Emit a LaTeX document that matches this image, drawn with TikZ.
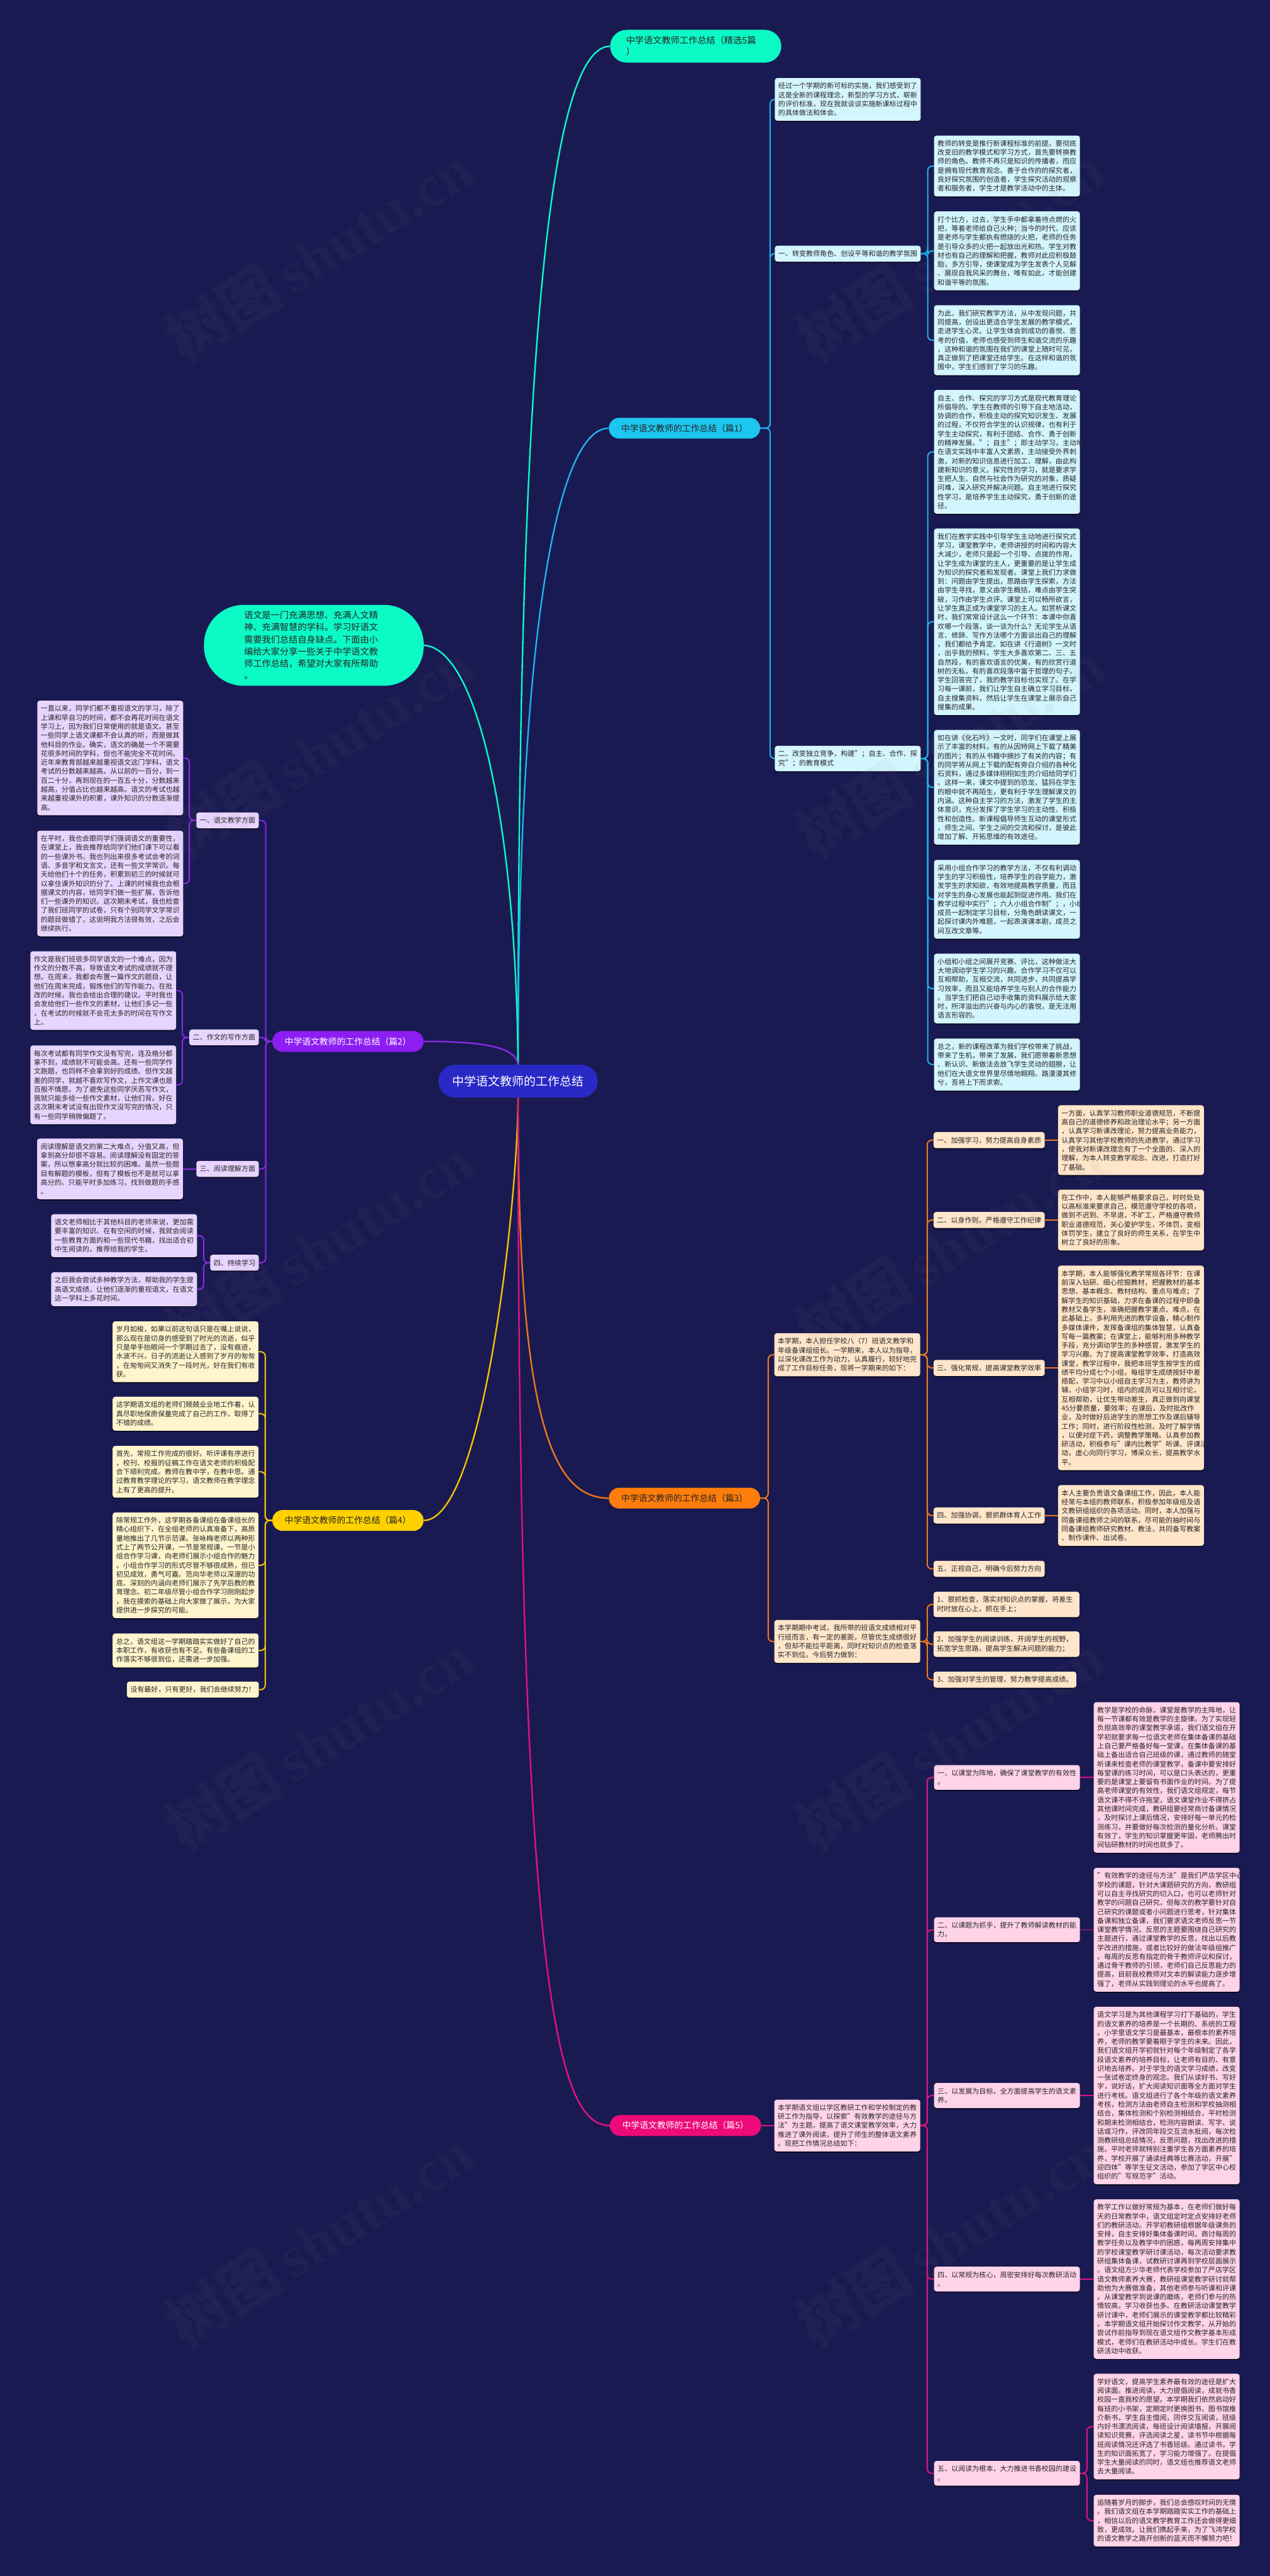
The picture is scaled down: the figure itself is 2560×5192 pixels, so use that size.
\documentclass[tikz,border=0pt]{standalone}
\usepackage{fontspec}
\setmainfont{Noto Sans CJK SC}
\newfontfamily\wmfont{Liberation Serif}
\usetikzlibrary{shadows}
\pgfdeclarelayer{back}\pgfdeclarelayer{lines}\pgfdeclarelayer{front}
\pgfsetlayers{back,lines,main,front}
\definecolor{bg}{HTML}{1A1A52}
\definecolor{txt}{HTML}{262626}
\definecolor{mint}{HTML}{0CFAC6}
\definecolor{rootc}{HTML}{2929C6}
\definecolor{c1}{HTML}{1CC6EE}\definecolor{c1line}{HTML}{1EB5EC}\definecolor{c1f}{HTML}{D3F5FE}
\definecolor{c2}{HTML}{8C1EF2}\definecolor{c2line}{HTML}{8A2BE8}\definecolor{c2f}{HTML}{E8D5FF}
\definecolor{c3}{HTML}{FF7D0A}\definecolor{c3line}{HTML}{F07818}\definecolor{c3f}{HTML}{FFE5CA}
\definecolor{c4}{HTML}{FFD100}\definecolor{c4line}{HTML}{F2C500}\definecolor{c4f}{HTML}{FFF4CC}
\definecolor{c5}{HTML}{EE0A78}\definecolor{c5line}{HTML}{E0147E}\definecolor{c5f}{HTML}{FFD3E8}
\tikzset{
  tb/.style={rounded corners=5pt, inner xsep=7pt, inner ysep=9.5pt, font=\fontsize{14}{18.1}\selectfont, text=txt, align=left,
    drop shadow={shadow xshift=0pt,shadow yshift=-2.5pt,opacity=0.55,fill=black}},
  wb/.style={tb, text width=280pt, anchor=north west},
  branch/.style={rounded corners=21pt, minimum height=42pt, minimum width=305pt, inner xsep=0pt, font=\fontsize{17.5}{20}\selectfont},
  ln/.style={line width=2.5pt, rounded corners=9pt},
  mainln/.style={line width=3pt},
  wm/.style={rotate=32, text=gray, opacity=0.06, font=\fontsize{120}{120}\selectfont\bfseries}
}
\begin{document}
\begin{tikzpicture}[x=1pt,y=-1pt]
\begin{pgfonlayer}{back}
\fill[bg] (0,0) rectangle (2560,5192);
\end{pgfonlayer}
\useasboundingbox (0,0) rectangle (2560,5192);

% ---------- top level ----------
\node[fill=mint, rounded corners=33pt, anchor=north west, minimum height=66pt, text width=281pt, inner xsep=32pt, inner ysep=0pt, align=left, font=\fontsize{18}{23}\selectfont, text=txt] (top) at (1230,60) {中学语文教师工作总结（精选5篇\\）};
\node[fill=mint, rounded corners=80pt, anchor=north west, minimum height=163pt, text width=281pt, inner xsep=81pt, inner ysep=0pt, align=left, font=\fontsize{18}{24.3}\selectfont, text=txt] (intro) at (411,1219) {语文是一门充满思想、充满人文精\\神、充满智慧的学科。学习好语文\\需要我们总结自身缺点。下面由小\\编给大家分享一些关于中学语文教\\师工作总结，希望对大家有所帮助\\。};
\node[fill=rootc, rounded corners=33pt, minimum width=321pt, minimum height=66pt, font=\fontsize{24}{28}\selectfont, text=white] (root) at (1044.5,2179) {中学语文教师的工作总结};

\node[branch, fill=c1, text=txt] (b1) at (1380,863) {中学语文教师的工作总结（篇1）};
\node[branch, fill=c2, text=white] (b2) at (701.5,2099) {中学语文教师的工作总结（篇2）};
\node[branch, fill=c3, text=txt] (b3) at (1380,3019.5) {中学语文教师的工作总结（篇3）};
\node[branch, fill=c4, text=txt] (b4) at (701.5,3064.5) {中学语文教师的工作总结（篇4）};
\node[branch, fill=c5, text=white] (b5) at (1382,4284) {中学语文教师的工作总结（篇5）};

% ---------- 篇1 ----------
\node[wb, fill=c1f] (b1intro) at (1562,157) {经过一个学期的新可标的实施，我们感受到了\\这是全新的课程理念，新型的学习方式，崭新\\的评价标准，现在我就谈谈实施新课标过程中\\的具体做法和体会。};
\node[wb, fill=c1f] (b1s1) at (1562,495) {一、转变教师角色、创设平等和谐的教学氛围};
\node[wb, fill=c1f] (b1s1c1) at (1883,273) {教师的转变是推行新课程标准的前提。要彻底\\改变旧的教学模式和学习方式，首先要转换教\\师的角色。教师不再只是知识的传播者，而应\\是拥有现代教育观念、善于合作的的探究者，\\良好探究氛围的创造者，学生探究活动的观察\\者和服务者，学生才是教学活动中的主体。};
\node[wb, fill=c1f] (b1s1c2) at (1883,426) {打个比方，过去，学生手中都拿着待点燃的火\\把，等着老师给自己火种；当今的时代，应该\\是老师与学生都执有燃烧的火把，老师的任务\\是引导众多的火把一起放出光和热。学生对教\\材也有自己的理解和把握，教师对此应积极鼓\\励，多方引导，使课堂成为学生发表个人见解\\、展现自我风采的舞台，唯有如此，才能创建\\和谐平等的氛围。};
\node[wb, fill=c1f] (b1s1c3) at (1883,615) {为此，我们研究教学方法，从中发现问题，共\\同提高，创设出更适合学生发展的教学模式，\\走进学生心灵。让学生体会到成功的喜悦、思\\考的价值，老师也感受到师生和谐交流的乐趣\\，这种和谐的氛围在我们的课堂上随时可见，\\真正做到了把课堂还给学生。在这样和谐的氛\\围中，学生们感到了学习的乐趣。};
\node[wb, fill=c1f] (b1s2) at (1562,1503) {二、改变独立竞争，构建"；自主、合作、探\\究"；的教育模式};
\node[wb, fill=c1f] (b1s2c1) at (1883,786) {自主、合作、探究的学习方式是现代教育理论\\所倡导的。学生在教师的引导下自主地活动，\\协调的合作，积极主动的探究知识发生、发展\\的过程，不仅符合学生的认识规律，也有利于\\学生主动探究，有利于团结、合作、勇于创新\\的精神发展。"；自主"；即主动学习，主动地\\在语文实践中丰富人文素质，主动接受外界刺\\激，对新的知识信息进行加工、理解，由此构\\建新知识的意义。探究性的学习，就是要求学\\生把人生、自然与社会作为研究的对象，质疑\\问难，深入研究并解决问题。自主地进行探究\\性学习，是培养学生主动探究，勇于创新的途\\径。};
\node[wb, fill=c1f] (b1s2c2) at (1883,1065) {我们在教学实践中引导学生主动地进行探究式\\学习，课堂教学中，老师讲授的时间和内容大\\大减少，老师只是起一个引导、点拨的作用，\\让学生成为课堂的主人，更重要的是让学生成\\为知识的探究者和发现者。课堂上我们力求做\\到：问题由学生提出，思路由学生探索，方法\\由学生寻找，意义由学生概括，难点由学生突\\破，习作由学生点评。课堂上可以畅所欲言，\\让学生真正成为课堂学习的主人。如赏析课文\\时，我们常常设计这么一个环节：本课中你喜\\欢哪一个段落，谈一谈为什么？无论学生从语\\言、修辞、写作方法哪个方面谈出自己的理解\\，我们都给予肯定。如在讲《行道树》一文时\\，出乎我的预料，学生大多喜欢第二、三、五\\自然段，有的喜欢语言的优美，有的欣赏行道\\树的无私，有的喜欢段落中富于哲理的句子。\\学生回答完了，我的教学目标也实现了。在学\\习每一课前，我们让学生自主确立学习目标，\\自主搜集资料，然后让学生在课堂上展示自己\\搜集的成果。};
\node[wb, fill=c1f] (b1s2c3) at (1883,1471) {如在讲《化石吟》一文时，同学们在课堂上展\\示了丰富的材料，有的从因特网上下载了精美\\的图片；有的从书籍中摘抄了有关的内容；有\\的同学将从网上下载的配有旁白介绍的各种化\\石资料，通过多媒体栩栩如生的介绍给同学们\\。这样一来，课文中提到的恐龙、猛犸在学生\\的眼中就不再陌生，更有利于学生理解课文的\\内涵。这种自主学习的方法，激发了学生的主\\体意识，充分发挥了学生学习的主动性、积极\\性和创造性。新课程倡导师生互动的课堂形式\\，师生之间、学生之间的交流和探讨，是彼此\\增加了解、开拓思维的有效途径。};
\node[wb, fill=c1f] (b1s2c4) at (1883,1733) {采用小组合作学习的教学方法，不仅有利调动\\学生的学习积极性，培养学生的自学能力，激\\发学生的求知欲，有效地提高教学质量，而且\\对学生的身心发展也能起到促进作用。我们在\\教学过程中实行"；六人小组合作制"；，小组\\成员一起制定学习目标，分角色朗读课文，一\\起探讨课内外难题，一起表演课本剧，成员之\\间互改文章等。};
\node[wb, fill=c1f] (b1s2c5) at (1883,1922) {小组和小组之间展开竞赛、评比，这种做法大\\大地调动学生学习的兴趣。合作学习不仅可以\\互相帮助，互相交流，共同进步，共同提高学\\习效率，而且又能培养学生与别人的合作能力\\。当学生们把自己动手收集的资料展示给大家\\时，所洋溢出的兴奋与内心的喜悦，是无法用\\语言形容的。};
\node[wb, fill=c1f] (b1s2c6) at (1883,2093) {总之，新的课程改革为我们学校带来了挑战，\\带来了生机，带来了发展，我们愿带着新思想\\、新认识、新做法去放飞学生灵动的翅膀，让\\他们在大语文世界里尽情地翱翔。路漫漫其修\\兮，吾将上下而求索。};

% ---------- 篇2 ----------
\node[tb, fill=c2f, anchor=east] (b2s1) at (522,1653.5) {一、语文教学方面};
\node[wb, fill=c2f] (b2s1c1) at (75,1412) {一直以来，同学们都不重视语文的学习，除了\\上课和早自习的时间，都不会再花时间在语文\\学习上，因为我们日常使用的就是语文。甚至\\一些同学上语文课都不会认真的听，而是做其\\他科目的作业。确实，语文的确是一个不需要\\花很多时间的学科，但也不能完全不花时间。\\近年来教育部越来越重视语文这门学科，语文\\考试的分数越来越高。从以前的一百分，到一\\百二十分，再到现在的一百五十分，分数越来\\越高，分值占比也越来越高。语文的考试也越\\来越重视课外的积累，课外知识的分数逐渐提\\高。};
\node[wb, fill=c2f] (b2s1c2) at (75,1674) {在平时，我也会跟同学们强调语文的重要性，\\在课堂上，我会推荐给同学们他们课下可以看\\的一些课外书。我也列出来很多考试会考的词\\语、多音字和文言文，还有一些文学常识。每\\天给他们十个的任务，积累到初三的时候就可\\以拿住课外知识的分了。上课的时候我也会根\\据课文的内容，给同学们做一些扩展，告诉他\\们一些课外的知识。这次期末考试，我也检查\\了我们班同学的试卷，只有个别同学文学常识\\的题目做错了，这说明我方法很有效，之后会\\继续执行。};
\node[tb, fill=c2f, anchor=east] (b2s2) at (522,2091) {二、作文的写作方面};
\node[wb, fill=c2f] (b2s2c1) at (61,1917) {作文是我们班很多同学语文的一个难点，因为\\作文的分数不高，导致语文考试的成绩就不理\\想。在周末，我都会布置一篇作文的题目，让\\他们在周末完成，锻炼他们的写作能力。在批\\改的时候，我也会给出合理的建议。平时我也\\会发给他们一些作文的素材，让他们多记一些\\，在考试的时候就不会花太多的时间在写作文\\上。};
\node[wb, fill=c2f] (b2s2c2) at (61,2107) {每次考试都有同学作文没有写完，连及格分都\\拿不到，成绩就不可能会高。还有一些同学作\\文跑题，也同样不会拿到好的成绩。但作文越\\差的同学，就越不喜欢写作文，上作文课也是\\百般不情愿。为了避免这些同学厌恶写作文，\\我就只能多给一些作文素材，让他们背。好在\\这次期末考试没有出现作文没写完的情况，只\\有一些同学稍微偏题了。};
\node[tb, fill=c2f, anchor=east] (b2s3) at (522,2356) {三、阅读理解方面};
\node[wb, fill=c2f, anchor=east] (b2s3c1) at (369,2356) {阅读理解是语文的第二大难点，分值又高，但\\拿到高分却很不容易。阅读理解没有固定的答\\案，所以想拿高分就比较的困难。虽然一些题\\目有解题的模板，但有了模板也不是就可以拿\\高分的。只能平时多加练习，找到做题的手感\\。};
\node[tb, fill=c2f, anchor=east] (b2s4) at (522,2545) {四、持续学习};
\node[wb, fill=c2f] (b2s4c1) at (103,2447) {语文老师相比于其他科目的老师来说，更加需\\要丰富的知识。在有空闲的时候，我就会阅读\\一些教育方面的和一些现代书籍，找出适合初\\中生阅读的，推荐给我的学生。};
\node[wb, fill=c2f] (b2s4c2) at (103,2564) {之后我会尝试多种教学方法，帮助我的学生提\\高语文成绩，让他们逐渐的重视语文，在语文\\这一学科上多花时间。};

% ---------- 篇4 ----------
\node[wb, fill=c4f] (b4c1) at (227,2663) {岁月如梭，如果以前这句话只是在嘴上说说，\\那么现在是切身的感受到了时光的流逝，似乎\\只是举手抬眼间一个学期过去了，没有痕迹，\\水波不兴，日子的流逝让人感到了岁月的匆匆\\，在匆匆间又消失了一段时光，好在我们有收\\获。};
\node[wb, fill=c4f] (b4c2) at (227,2815) {这学期语文组的老师们兢兢业业地工作着，认\\真尽职地保质保量完成了自己的工作，取得了\\不错的成绩。};
\node[wb, fill=c4f] (b4c3) at (227,2914) {首先，常规工作完成的很好。听评课有序进行\\，校刊、校报的征稿工作在语文老师的积极配\\合下顺利完成。教师在教中学，在教中思。通\\过教育教学理论的学习，语文教师在教学理念\\上有了更高的提升。};
\node[wb, fill=c4f] (b4c4) at (227,3048) {除常规工作外，这学期各备课组在备课组长的\\精心组织下，在全组老师的认真准备下，高质\\量地推出了几节示范课。张咏梅老师以两种形\\式上了两节公开课，一节是常规课，一节是小\\组合作学习课，向老师们展示小组合作的魅力\\。小组合作学习的形式尽管不够很成熟，但已\\初见成效，勇气可嘉。范向华老师以深邃的功\\底、深刻的内涵向老师们展示了先学后教的教\\育理念。初二年级尽管小组合作学习刚刚起步\\，我在摸索的基础上向大家做了展示，为大家\\提供进一步探究的可能。};
\node[wb, fill=c4f] (b4c5) at (227,3292) {总之，语文组这一学期踏踏实实做好了自己的\\本职工作，有收获也有不足。有些备课组的工\\作落实不够很到位，还需进一步加强。};
\node[tb, fill=c4f, anchor=east] (b4c6) at (522,3405.5) {没有最好，只有更好，我们会继续努力！};

% ---------- 篇3 ----------
\node[wb, fill=c3f] (b3i1) at (1561,2687) {本学期，本人担任学校八（7）班语文教学和\\年级备课组组长。一学期来，本人以为指导，\\以深化课改工作为动力，认真履行，较好地完\\成了工作目标任务，现将一学期来的如下：};
\node[tb, fill=c3f, anchor=west] (b3s1) at (1882,2298) {一、加强学习，努力提高自身素质};
\node[tb, fill=c3f, anchor=west] (b3s2) at (1882,2459) {二、以身作则，严格遵守工作纪律};
\node[tb, fill=c3f, anchor=west] (b3s3) at (1882,2757) {三、强化常规，提高课堂教学效率};
\node[tb, fill=c3f, anchor=west] (b3s4) at (1882,3054.5) {四、加强协调，狠抓群体育人工作};
\node[tb, fill=c3f, anchor=west] (b3s5) at (1882,3162) {五、正视自己，明确今后努力方向};
\node[wb, fill=c3f, anchor=west] (b3s1c) at (2133,2298) {一方面，认真学习教师职业道德规范，不断提\\高自己的道德修养和政治理论水平；另一方面\\，认真学习新课改理论，努力提高业务能力，\\认真学习其他学校教师的先进教学，通过学习\\，使我对新课改理念有了一个全面的、深入的\\理解，为本人转变教学观念、改进，打造打好\\了基础。};
\node[wb, fill=c3f, anchor=west] (b3s2c) at (2133,2459) {在工作中，本人能够严格要求自己，时时处处\\以高标准来要求自己，模范遵守学校的各项，\\做到不迟到、不早退，不旷工，严格遵守教师\\职业道德规范，关心爱护学生，不体罚，变相\\体罚学生，建立了良好的师生关系，在学生中\\树立了良好的形象。};
\node[wb, fill=c3f, anchor=west] (b3s3c) at (2133,2757) {本学期，本人能够强化教学常规各环节：在课\\前深入钻研、细心挖掘教材，把握教材的基本\\思想、基本概念、教材结构、重点与难点；了\\解学生的知识基础，力求在备课的过程中即备\\教材又备学生，准确把握教学重点、难点，在\\此基础上，多利用先进的教学设备，精心制作\\多媒体课件，发挥备课组的集体智慧，认真备\\写每一篇教案；在课堂上，能够利用多种教学\\手段，充分调动学生的多种感官，激发学生的\\学习兴趣。为了提高课堂教学效率，打造高效\\课堂，教学过程中，我把本班学生按学生的成\\绩平均分成七个小组，每组学生成绩按好中差\\搭配，学习中以小组自主学习为主，教师讲为\\辅，小组学习时，组内的成员可以互相讨论，\\互相帮助，让优生带动差生，真正做到向课堂\\45分要质量，要效率；在课后，及时批改作\\业，及时做好后进学生的思想工作及课后辅导\\工作；同时，进行阶段性检测，及时了解学情\\，以便对症下药，调整教学策略。认真参加教\\研活动，积极参与"课内比教学"听课、评课活\\动，虚心向同行学习，博采众长，提高教学水\\平。};
\node[wb, fill=c3f, anchor=west] (b3s4c) at (2133,3054.5) {本人主要负责语文备课组工作，因此，本人能\\经常与本组的教师联系，积极参加年级组及语\\文教研组组织的各项活动。同时，本人加强与\\同备课组教师之间的联系，尽可能的抽时间与\\同备课组教师研究教材、教法，共同备写教案\\、制作课件、出试卷。};
\node[wb, fill=c3f] (b3i2) at (1561,3265) {本学期期中考试，我所带的班语文成绩相对平\\行班而言，有一定的差距，尽管优生成绩很好\\，但却不能拉平距离，同时对知识点的检查落\\实不到位。今后努力做到：};
\node[wb, fill=c3f] (b3j1) at (1882,3208) {1、狠抓检查，落实对知识点的掌握，将差生\\时时放在心上，抓在手上；};
\node[wb, fill=c3f] (b3j2) at (1882,3288) {2、加强学生的阅读训练，开阔学生的视野，\\拓宽学生思路，提高学生解决问题的能力；};
\node[tb, fill=c3f, anchor=north west] (b3j3) at (1882,3369) {3、加强对学生的管理，努力教学提高成绩。};

% ---------- 篇5 ----------
\node[wb, fill=c5f, anchor=west] (b5i) at (1561,4284) {本学期语文组以学区教研工作和学校制定的教\\研工作为指导，以探索"有效教学的途径与方\\法"为主题，提高了语文课堂教学效率，大力\\推进了课外阅读，提升了师生的整体语文素养\\。现把工作情况总结如下：};
\node[wb, fill=c5f, anchor=west] (b5s1) at (1883,3582.5) {一、以课堂为阵地，确保了课堂教学的有效性\\。};
\node[wb, fill=c5f, anchor=west] (b5s2) at (1883,3889.5) {二、以课题为抓手，提升了教师解读教材的能\\力。};
\node[wb, fill=c5f, anchor=west] (b5s3) at (1883,4223.5) {三、以发展为目标，全方面提高学生的语文素\\养。};
\node[wb, fill=c5f, anchor=west] (b5s4) at (1883,4593.5) {四、以常规为核心，周密安排好每次教研活动\\。};
\node[wb, fill=c5f, anchor=west] (b5s5) at (1883,4985) {五、以阅读为根本，大力推进书香校园的建设\\。};
\node[wb, fill=c5f, anchor=west] (b5s1c) at (2205,3582.5) {教学是学校的命脉，课堂是教学的主阵地，让\\每一节课都有效是教学的主旋律。为了实现轻\\负担高效率的课堂教学承诺，我们语文组在开\\学初就要求每一位语文老师在集体备课的基础\\上自己要严格备好每一堂课，在集体备课的基\\础上备出适合自己班级的课，通过教师的随堂\\听课来检查老师的课堂教学，备课中要安排好\\每堂课的练习时间，可以是口头表达的，更重\\要的是课堂上要留有书面作业的时间。为了提\\高老师课堂的有效性，我们语文组规定，每节\\语文课不得不许拖堂，语文课堂作业不得挤占\\其他课时间完成，教研组要经常商讨备课情况\\，及时探讨上课后情况，安排好每一单元的检\\测练习，并要做好每次检测的量化分析。课堂\\有效了，学生的知识掌握更牢固，老师腾出时\\间钻研教材的时间也就多了。};
\node[wb, fill=c5f, anchor=west] (b5s2c) at (2205,3889.5) {"有效教学的途径与方法"是我们严店学区中心\\学校的课题，针对大课题研究的方向，教研组\\可以自主寻找研究的切入口，也可以老师针对\\教学的问题自己研究，但每次的教学要针对自\\己研究的课题或者小问题进行思考，针对集体\\备课和独立备课，我们要求语文老师反思一节\\课堂教学情况。反思的主题要围绕自己研究的\\主题进行，通过课堂教学的反思，找出以后教\\学改进的措施，或者比较好的做法年级组推广\\。每周的反思有指定的骨干教师评议和探讨，\\通过骨干教师的引领，老师们自己反思能力的\\提高，目前我校教师对文本的解读能力逐步增\\强了，老师从实践到理论的水平也提高了。};
\node[wb, fill=c5f, anchor=west] (b5s3c) at (2205,4223.5) {语文学习是为其他课程学习打下基础的，学生\\的语文素养的培养是一个长期的、系统的工程\\。小学里语文学习是最基本，最根本的素养培\\养，老师的教学要着眼于学生的未来。因此，\\我们语文组开学初就针对每个年级制定了各学\\段语文素养的培养目标，让老师有目的、有意\\识地去培养。对于学生的语文学习成绩，改变\\一张试卷定终身的观念。我们从读好书、写好\\字，说好话，扩大阅读知识面等全方面对学生\\进行考核。语文组进行了各个年级的语文素养\\考核，检测方法由老师自主检测和学校抽测相\\结合，集体检测和个别检测相结合，平时检测\\和期末检测相结合，检测内容朗读、写字、说\\话或习作，评改同年段交互流水批阅，每次检\\测教研组总结情况，反思问题，找出改进的措\\施。平时老师就特别注重学生各方面素养的培\\养，学校开展了诵读经典等比赛活动，开展"\\迎四体"等学生征文活动，参加了学区中心校\\组织的"写规范字"活动。};
\node[wb, fill=c5f, anchor=west] (b5s4c) at (2205,4593.5) {教学工作以做好常规为基本，在老师们做好每\\天的日常教学中，语文组定时定点安排好老师\\们的教研活动。开学初教研组根据年级课务的\\安排，自主安排好集体备课时间，商讨每周的\\教学任务以及教学中的困惑，每两周安排集中\\的学校课堂教学研讨课活动，每次活动要求教\\研组集体备课，试教研讨课再到学校层面展示\\。语文组方少华老师代表学校参加了严店学区\\语文教师素养大赛，教研组课堂教学研讨就帮\\助他为大赛做准备，其他老师参与听课和评课\\。从课堂教学到说课的磨练，老师们参与的热\\情较高，学习收获也多。在教研活动课堂教学\\研讨课中，老师们展示的课堂教学都比较精彩\\。本学期语文组开始探讨作文教学，从开始的\\尝试作前指导到现在语文组作文教学基本形成\\模式，老师们在教研活动中成长。学生们在教\\研活动中收获。};
\node[wb, fill=c5f] (b5s5c1) at (2205,4784) {学好语文，提高学生素养最有效的途径是扩大\\阅读面。推进阅读，大力提倡阅读，成就书香\\校园一直我校的愿望。本学期我们依然启动好\\每班的小书架，定期定时更换图书，图书馆推\\介新书，学生自主借阅，同伴交互阅读，班级\\内好书漂流阅读，每班设计阅读墙报，开展阅\\读知识竞赛，评选阅读之星，读书节中根据每\\班阅读情况还评选了书香班级。通过读书，学\\生的知识面拓宽了，学习能力增强了。在提倡\\学生大量阅读的同时，语文组也推荐语文老师\\去大量阅读。};
\node[wb, fill=c5f] (b5s5c2) at (2205,5028) {追随着岁月的脚步，我们总会感叹时间的无情\\。我们语文组在本学期踏踏实实工作的基础上\\，相信以后的语文教学教育工作还会做得更细\\致，更成效。让我们携起手来，为了飞鸿学校\\的语文教学之路开创新的蓝天而不懈努力吧！};

% ---------- connectors ----------
\begin{pgfonlayer}{lines}
\draw[mainln, mint] (root.north) .. controls (1044,700) and (1110,93) .. (top.west);
\draw[mainln, c1line] (root.north) .. controls (1044,1300) and (1120,863) .. (b1.west);
\draw[mainln, mint] (intro.east) .. controls (960,1305) and (1040,1650) .. (root.north);
\draw[mainln, c2line] (b2.east) .. controls (975,2099) and (1040,2110) .. (root.north);
\draw[mainln, c4line] (b4.east) .. controls (975,3064.5) and (1044,2420) .. (root.south);
\draw[mainln, c3line] (root.south) .. controls (1044,2850) and (1110,3019.5) .. (b3.west);
\draw[mainln, c5line] (root.south) .. controls (1044,4050) and (1130,4284) .. (b5.west);

\foreach \c in {b1intro,b1s1,b1s2} \draw[ln, c1line] (b1.east) -- ++(20,0) |- (\c.west);
\foreach \c in {b1s1c1,b1s1c2,b1s1c3} \draw[ln, c1line] (b1s1.east) -- ++(14,0) |- (\c.west);
\foreach \c in {b1s2c1,b1s2c2,b1s2c3,b1s2c4,b1s2c5,b1s2c6} \draw[ln, c1line] (b1s2.east) -- ++(14,0) |- (\c.west);

\foreach \c in {b2s1,b2s2,b2s3,b2s4} \draw[ln, c2line] (b2.west) -- ++(-13,0) |- (\c.east);
\foreach \c in {b2s1c1,b2s1c2} \draw[ln, c2line] (b2s1.west) -- ++(-14,0) |- (\c.east);
\foreach \c in {b2s2c1,b2s2c2} \draw[ln, c2line] (b2s2.west) -- ++(-14,0) |- (\c.east);
\draw[ln, c2line] (b2s3.west) -- (b2s3c1.east);
\foreach \c in {b2s4c1,b2s4c2} \draw[ln, c2line] (b2s4.west) -- ++(-13,0) |- (\c.east);

\foreach \c in {b4c1,b4c2,b4c3,b4c4,b4c5,b4c6} \draw[ln, c4line] (b4.west) -- ++(-14,0) |- (\c.east);

\foreach \c in {b3i1,b3i2} \draw[ln, c3line] (b3.east) -- ++(16,0) |- (\c.west);
\foreach \c in {b3s1,b3s2,b3s3,b3s4,b3s5} \draw[ln, c3line] (b3i1.east) -- ++(14,0) |- (\c.west);
\foreach \n in {1,2,3,4} \draw[ln, c3line] (b3s\n.east) -- (b3s\n c.west);
\foreach \c in {b3j1,b3j2,b3j3} \draw[ln, c3line] (b3i2.east) -- ++(14,0) |- (\c.west);

\draw[ln, c5line] (b5.east) -- (b5i.west);
\foreach \c in {b5s1,b5s2,b5s3,b5s4,b5s5} \draw[ln, c5line] (b5i.east) -- ++(14,0) |- (\c.west);
\foreach \n in {1,2,3,4} \draw[ln, c5line] (b5s\n.east) -- (b5s\n c.west);
\foreach \c in {b5s5c1,b5s5c2} \draw[ln, c5line] (b5s5.east) -- ++(14,0) |- (\c.west);
\end{pgfonlayer}

% ---------- watermark ----------
\begin{pgfonlayer}{front}
\foreach \wx in {643,1915} \foreach \wy in {510,1510,2510,3510,4510}
  \node[wm] (wm-\wx-\wy) at (\wx,\wy) {树图\,{\wmfont\bfseries shutu.cn}};
\end{pgfonlayer}
\end{tikzpicture}
\end{document}
